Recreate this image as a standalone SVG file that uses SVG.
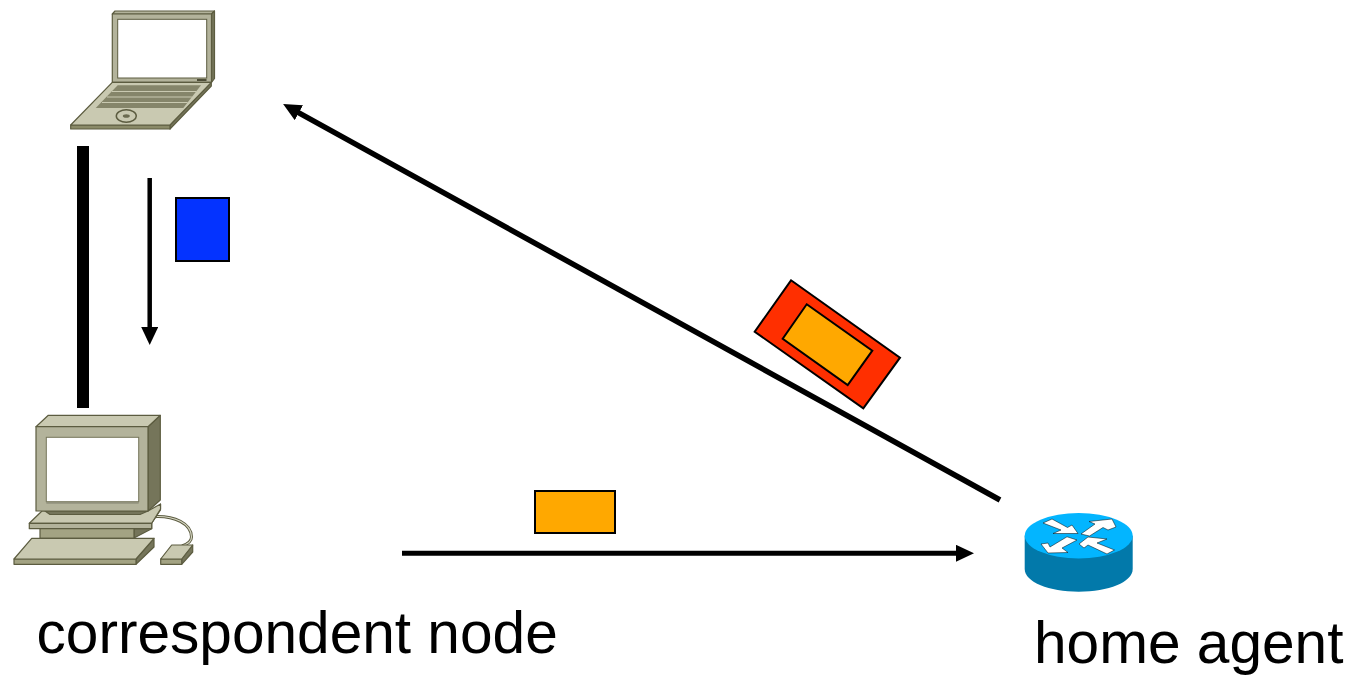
<svg xmlns="http://www.w3.org/2000/svg" width="1351" height="675" viewBox="0 0 1351 675">
<style>
.t{font-family:"Liberation Sans",Arial,sans-serif;font-size:58.6px;fill:#000}
.o{stroke:#5c5c40;stroke-width:1.2;stroke-linejoin:round}
.l{fill:#c9c9b1}.m{fill:#b3b39b}.d{fill:#75755a}.k{fill:#8a8a68}
.p{stroke:#000;stroke-width:2;stroke-linejoin:miter}
</style>
<defs>
<marker id="a" markerUnits="userSpaceOnUse" markerWidth="20" markerHeight="18" refX="1" refY="8.500" orient="auto"><path d="M0 0L18 8.500L0 17Z" fill="#000"/></marker>
</defs>
<rect width="1351" height="675" fill="#fff"/>
<g id="connectors">
<rect x="77" y="146" width="12" height="262" fill="#000"/>
<line x1="149.700" y1="178" x2="149.700" y2="328" stroke="#000" stroke-width="4.500" marker-end="url(#a)"/>
<line x1="1000" y1="500" x2="298" y2="112.300" stroke="#000" stroke-width="5.500" marker-end="url(#a)"/>
<line x1="402" y1="553.300" x2="957" y2="553.300" stroke="#000" stroke-width="5" marker-end="url(#a)"/>
</g>
<g id="laptop">
<path class="o m" d="M112.300 14L115 11H214.500L211.500 14Z"/>
<path class="o d" d="M211.500 14L214.500 11V78.500L211.500 82.500Z"/>
<rect class="o m" x="112.300" y="14" width="99.200" height="68.300"/>
<rect x="117.700" y="19.300" width="89" height="58.700" fill="#fff" stroke="#5c5c40" stroke-width="1"/>
<rect x="197" y="79" width="9.500" height="2" fill="#4e4e38"/>
<path class="o d" d="M211.300 82.300V86L170 129V125Z"/>
<path class="o k" d="M70.700 125H170V129H70.700Z"/>
<path class="o l" d="M112.300 82.300H211.300L170 125H70.700Z"/>
<path d="M117.700 85.300H201L183.300 108H95.700Z" fill="#85856a"/>
<path d="M112 91.500H196.200M107 97H191.900M102 102.500H187.600" stroke="#c9c9b1" stroke-width="1"/>
<ellipse cx="126.300" cy="116" rx="10" ry="6.300" fill="none" stroke="#5c5c40" stroke-width="1.500"/>
<ellipse cx="126.300" cy="116" rx="3.500" ry="1.800" fill="#6b6b50"/>
</g>
<g id="blue-packet"><rect class="p" x="176" y="198" width="53" height="63" fill="#0433ff"/></g>
<g id="encapsulated-packet">
<path class="p" d="M791 280.300L900 357.700L863.300 408.300L754.700 331.700Z" fill="#ff2f00"/>
<path class="p" d="M806.700 304.300L872.300 350.700L847.700 385L782.700 338.700Z" fill="#ffa800"/>
</g>
<g id="orange-packet"><rect class="p" x="535" y="491" width="80" height="42" fill="#ffa800"/></g>
<g id="correspondent-node">
<path d="M152 516.700C175 515 191.500 524 191.500 537C191.500 541 188 544 182 546" fill="none" stroke="#5c5c40" stroke-width="3"/>
<path d="M152 516.700C175 515 191.500 524 191.500 537C191.500 541 188 544 182 546" fill="none" stroke="#d6d6c4" stroke-width="1.200"/>
<path class="o d" d="M148 426.700L160.300 415.300V500L148 511Z"/>
<path class="o l" d="M36 426.700L48.300 415.300H160.300L148 426.700Z"/>
<path class="o d" d="M134 528.700H148L160.500 510V504L151.700 523.300V528.700L134 538Z"/>
<path class="o l" d="M29.300 523.300L42 511H148L160.500 504V509L151.700 523.300Z"/>
<path class="o d" d="M45 511H148L140 514.500H50Z"/>
<rect class="o m" x="36" y="426.700" width="112" height="84.300"/>
<rect x="46.300" y="437.300" width="92.400" height="64.400" fill="#fff" stroke="#75755a" stroke-width="1"/>
<rect x="46.300" y="501.700" width="92.400" height="2" fill="#91917c"/>
<path class="o k" d="M29.300 523.300H151.700V528.700H29.300Z" style="fill:#b3b39b"/>
<path class="o" d="M40 528.700H134V538.300H40Z" style="fill:#a3a383"/>
<path class="o d" d="M154 538.300V547L136 564.300V559Z"/>
<path class="o" d="M14 559H136V564.300H14Z" style="fill:#a3a383"/>
<path class="o l" d="M31.700 538.300H154L136 559H14Z"/>
<path class="o d" d="M192.700 545V552L181.700 564.300V559Z"/>
<path class="o" d="M160.700 559H181.700V564.300H160.700Z" style="fill:#a3a383"/>
<path class="o l" d="M171.700 545H192.700L181.700 559H160.700Z"/>
</g>
<g id="home-agent">
<path d="M1024.700 535.700V569C1024.700 582 1049 591.700 1078.700 591.700S1132.700 582 1132.700 569V535.700Z" fill="#0279aa"/>
<ellipse cx="1078.700" cy="535.700" rx="54" ry="22.700" fill="#03b5ff"/>
<g fill="#fff" stroke="#000" stroke-width="0.500">
<path d="M1043 523L1052 519L1067.500 527.500L1072 525L1078 533.500L1053 533.500L1061 530Z"/>
<path d="M1116 527L1112 519L1089 521.500L1095 524L1081 534L1089.500 536L1103 527.500L1108 530Z"/>
<path d="M1041 544L1048 553L1068 552.500L1062 548L1077 540L1067 536.800L1050 547L1048 543Z"/>
<path d="M1079 544L1088 537L1107 539L1097 543L1114.500 550L1107 554L1088 545L1084 548Z"/>
</g>
</g>
<text class="t" x="36.500" y="652.700">correspondent node</text>
<text class="t" x="1034" y="663">home agent</text>
</svg>
